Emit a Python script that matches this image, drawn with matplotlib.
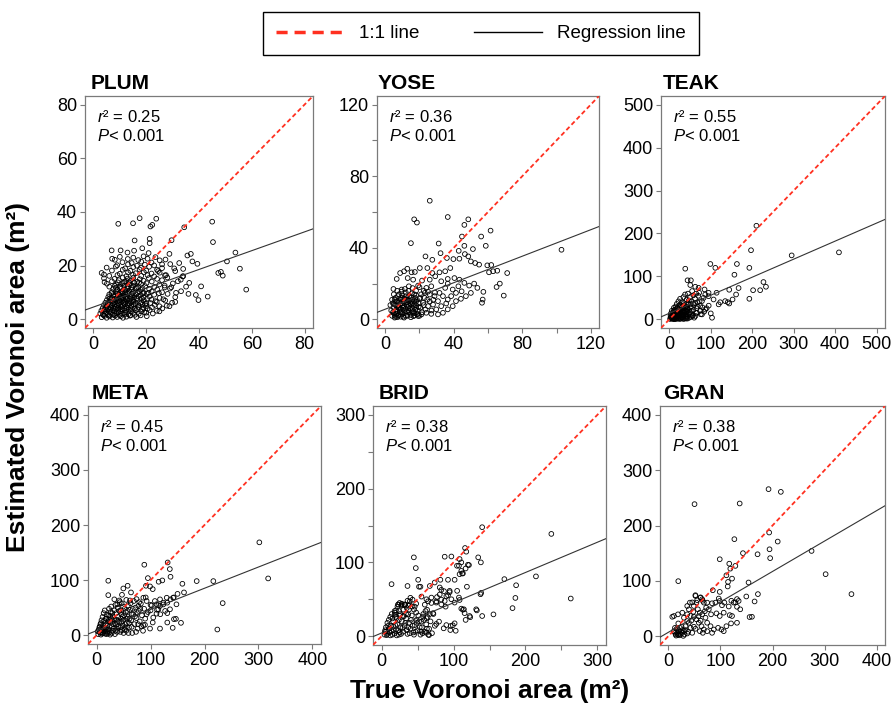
import numpy as np
import matplotlib
matplotlib.use("Agg")
import matplotlib.pyplot as plt
from matplotlib.lines import Line2D

plt.rcParams["font.family"] = ["Liberation Sans", "DejaVu Sans"]
plt.rcParams["mathtext.fontset"] = "custom"
plt.rcParams["mathtext.rm"] = "Liberation Sans"
plt.rcParams["mathtext.it"] = "Liberation Sans:italic"

# ---------------------------------------------------------------- data
SITES = ["PLUM", "YOSE", "TEAK", "META", "BRID", "GRAN"]
AXIS_MAX = [80, 120, 500, 400, 300, 400]
TICK_STEP = [20, 20, 100, 100, 50, 100]
LABEL_STEP = [20, 40, 100, 100, 100, 100]
R2 = [0.25, 0.36, 0.55, 0.45, 0.38, 0.38]
# regression lines (intercept, slope)
INTERCEPT = [4.6, 5.7, 14.3, 8.2, 4.3, 6.9]
SLOPE = [0.35, 0.37, 0.42, 0.385, 0.41, 0.55]

# (true area, estimated area) per site
PLUM = [
    (9.4, 35.6), (15.0, 35.8), (17.5, 37.7), (23.8, 37.5), (21.6, 34.6), (22.3, 35.2),
    (34.4, 34.3), (45.0, 36.4), (45.3, 28.8), (15.6, 29.4), (21.3, 30.0), (21.3, 28.4),
    (29.6, 29.5), (53.8, 24.9), (50.6, 21.6), (55.5, 18.9), (57.9, 11.1), (47.3, 17.3),
    (48.3, 17.7), (49.0, 16.3), (43.3, 8.5), (39.8, 7.2), (38.8, 9.1), (40.8, 12.3),
    (39.4, 20.7), (36.9, 24.4), (35.6, 23.8), (37.5, 21.6), (6.9, 25.7), (10.3, 25.7),
    (12.9, 24.9), (15.4, 25.6), (18.5, 26.5), (20.9, 24.7), (7.1, 22.6), (4.0, 16.7),
    (4.2, 13.9), (8.5, 19.7), (28.8, 24.4), (27.3, 22.3), (32.5, 21.0), (33.8, 16.0),
    (36.3, 13.6), (33.1, 14.8), (31.3, 9.9), (28.8, 4.9), (25.0, 4.9), (20.0, 2.5),
    (30.6, 19.0), (34.0, 18.8), (26.0, 20.5), (24.5, 18.0), (29.5, 12.0), (31.0, 6.5),
    (36.0, 9.5), (27.5, 16.5),
    (3.1, 0.8), (4.2, 1.3), (5.0, 0.6), (6.1, 1.1), (7.3, 0.7), (8.2, 1.4), (9.0, 0.9),
    (10.4, 1.2), (11.2, 0.6), (12.5, 1.0), (14.1, 1.5), (16.3, 0.9), (20.2, 1.2),
    (2.6, 2.2), (3.6, 1.9), (4.7, 2.4), (5.5, 2.0), (6.6, 2.6), (7.4, 1.8), (8.7, 2.3),
    (9.6, 2.7), (10.8, 2.1), (12.1, 2.5), (13.2, 1.9), (15.0, 2.4), (17.2, 2.1), (19.3, 2.7),
    (3.0, 3.3), (4.1, 3.0), (5.2, 3.5), (6.0, 2.9), (7.1, 3.4), (8.0, 3.1), (9.2, 3.6),
    (10.1, 3.0), (11.0, 3.5), (12.3, 3.2), (13.4, 3.7), (14.2, 3.1), (16.0, 3.4), (18.1, 3.0),
    (21.3, 3.5), (24.0, 3.2),
    (3.5, 4.2), (4.6, 4.5), (5.6, 4.0), (6.5, 4.4), (7.7, 4.1), (8.5, 4.6), (9.4, 4.2),
    (10.6, 4.7), (11.6, 4.1), (12.7, 4.5), (14.0, 4.3), (15.6, 4.0), (17.1, 4.6), (19.0, 4.2),
    (22.2, 4.5), (26.1, 4.1),
    (4.0, 5.3), (5.1, 5.0), (6.2, 5.6), (7.0, 5.2), (8.1, 5.5), (9.0, 5.1), (10.2, 5.4),
    (11.1, 5.0), (12.0, 5.6), (13.1, 5.3), (14.3, 5.1), (15.2, 5.5), (17.0, 5.2), (18.6, 5.6),
    (20.0, 5.0), (23.2, 5.4), (27.8, 5.1),
    (4.5, 6.2), (6.0, 6.5), (7.2, 6.0), (8.0, 6.4), (9.1, 6.1), (10.0, 6.6), (11.2, 6.2),
    (12.1, 6.5), (13.0, 6.0), (14.2, 6.3), (15.1, 6.6), (16.0, 6.1), (18.2, 6.4), (20.1, 6.0),
    (24.0, 6.5), (29.8, 6.2),
    (5.1, 7.2), (6.6, 7.5), (7.5, 7.0), (8.6, 7.4), (9.6, 7.1), (10.5, 7.6), (11.4, 7.2),
    (12.6, 7.5), (13.5, 7.0), (15.1, 7.3), (16.5, 7.6), (19.1, 7.1), (22.0, 7.4), (27.2, 7.0),
    (5.6, 8.3), (7.0, 8.0), (8.1, 8.5), (9.0, 8.1), (10.1, 8.6), (11.0, 8.2), (12.2, 8.5),
    (13.0, 8.0), (14.1, 8.4), (15.5, 8.1), (17.1, 8.6), (19.0, 8.2), (21.2, 8.5), (25.1, 8.0),
    (31.0, 8.3),
    (6.0, 9.3), (7.5, 9.0), (9.1, 9.5), (10.0, 9.1), (11.1, 9.6), (12.0, 9.2), (13.1, 9.5),
    (14.6, 9.0), (16.1, 9.4), (18.0, 9.1), (20.2, 9.6), (23.0, 9.2), (28.1, 9.5),
    (7.0, 10.2), (8.6, 10.5), (10.1, 10.0), (11.0, 10.4), (12.1, 10.1), (13.5, 10.6),
    (15.0, 10.2), (17.1, 10.5), (19.0, 10.0), (22.1, 10.4), (26.0, 10.1), (33.2, 10.5),
    (7.5, 11.3), (9.0, 11.0), (10.6, 11.5), (12.0, 11.1), (13.1, 11.6), (14.5, 11.2),
    (16.1, 11.5), (18.0, 11.0), (21.1, 11.4), (24.2, 11.1), (29.0, 11.5),
    (6.0, 12.2), (8.1, 12.5), (10.0, 12.1), (11.6, 12.6), (13.0, 12.2), (15.1, 12.5),
    (17.0, 12.0), (19.6, 12.4), (23.1, 12.1), (27.0, 12.6), (35.1, 12.2),
    (5.1, 13.3), (8.6, 13.0), (11.0, 13.5), (13.6, 13.1), (15.5, 13.6), (18.0, 13.2),
    (20.1, 13.5), (25.0, 13.0), (30.1, 13.4),
    (7.0, 14.2), (9.6, 14.6), (12.0, 14.1), (14.1, 14.5), (16.6, 14.0), (19.0, 14.4),
    (22.1, 14.1), (26.0, 14.6), (32.0, 14.2),
    (4.0, 15.3), (8.0, 15.1), (11.1, 15.6), (13.0, 15.2), (15.1, 15.5), (17.6, 15.0),
    (21.0, 15.4), (24.1, 15.1), (28.0, 15.6),
    (6.0, 16.2), (9.1, 16.5), (12.5, 16.1), (15.0, 16.6), (18.1, 16.2), (20.5, 16.5),
    (23.0, 16.0), (27.1, 16.4), (34.0, 16.1),
    (3.1, 17.3), (10.0, 17.0), (13.1, 17.5), (16.0, 17.2), (19.1, 17.6), (22.0, 17.1), (25.1, 17.4),
    (7.0, 18.2), (11.1, 18.5), (14.0, 18.1), (17.5, 18.6), (20.0, 18.2), (24.1, 18.5), (31.0, 18.0),
    (5.0, 19.3), (12.0, 19.0), (15.1, 19.5), (18.0, 19.2), (21.1, 19.6), (26.0, 19.1),
    (9.0, 20.2), (13.1, 20.5), (16.5, 20.0), (19.5, 20.4), (23.0, 20.1), (29.1, 20.6),
    (11.0, 21.3), (14.5, 21.0), (18.1, 21.5), (22.0, 21.2),
    (8.1, 22.2), (13.0, 22.5), (17.0, 22.1), (20.5, 22.6), (25.1, 22.0),
    (10.0, 23.3), (15.1, 23.0), (19.0, 23.5), (23.5, 23.2),
    (3.8, 1.6), (5.8, 1.5), (7.9, 1.7), (9.9, 1.6), (11.8, 1.8), (13.8, 1.4), (15.7, 1.7),
    (17.9, 1.5), (4.4, 3.8), (6.4, 3.7), (8.4, 3.9), (10.3, 3.8), (12.4, 3.9), (14.6, 3.7),
    (16.6, 3.9), (18.5, 3.7), (20.5, 4.0), (5.4, 5.8), (7.5, 5.9), (9.6, 5.7), (11.5, 5.9),
    (13.6, 5.8), (15.8, 5.7), (17.8, 5.9), (19.6, 5.8), (21.6, 6.1), (6.2, 7.8), (8.2, 7.7),
    (10.3, 7.9), (12.2, 7.8), (14.3, 7.7), (16.3, 7.9), (18.3, 7.8), (20.3, 7.7), (6.8, 9.8),
    (8.8, 9.7), (10.7, 9.9), (12.7, 9.8), (14.8, 9.7), (16.8, 9.9), (18.8, 9.7), (20.9, 9.9),
    (8.5, 11.8), (10.4, 11.9), (12.6, 11.7), (14.4, 11.9), (16.4, 11.8), (18.6, 11.7),
    (9.2, 13.8), (11.5, 13.7), (13.4, 13.9), (15.3, 13.8), (17.3, 13.7), (22.5, 2.2),
    (25.0, 3.0), (23.5, 6.8), (26.5, 7.5), (24.8, 9.8), (27.0, 11.9),
]

YOSE = [
    (26.0, 66.3), (36.5, 57.2), (16.9, 55.9), (18.5, 54.1), (48.5, 55.9), (46.2, 52.8),
    (61.5, 49.6), (44.8, 46.3), (56.0, 46.3), (58.7, 41.1), (46.2, 41.1), (51.2, 39.3),
    (15.0, 42.6), (31.2, 42.4), (102.9, 38.9), (23.5, 35.2), (27.5, 33.3), (32.3, 37.0),
    (36.0, 34.3), (39.8, 33.7), (42.9, 38.3), (43.3, 33.9), (46.5, 36.5), (48.5, 35.2),
    (50.0, 32.4), (52.5, 31.5), (54.8, 30.6), (59.6, 30.2), (61.9, 30.4), (63.0, 26.9),
    (65.4, 27.2), (60.6, 26.3), (71.2, 25.9), (66.9, 20.0), (65.0, 18.1), (69.2, 13.3),
    (57.3, 15.4), (56.9, 11.1), (56.5, 9.3),
    (6.7, 22.6), (8.7, 25.9), (11.0, 26.9), (12.9, 28.3), (15.4, 26.3), (17.3, 26.5),
    (20.2, 28.7), (24.6, 28.7), (27.5, 25.9), (4.8, 17.0), (9.6, 16.7), (13.8, 18.5),
    (19.2, 18.9), (21.5, 21.7), (26.0, 22.2), (29.2, 24.1), (31.7, 26.3), (35.0, 26.9),
    (38.0, 28.7), (32.7, 21.3), (36.5, 22.6), (40.4, 23.1), (43.3, 22.2), (46.2, 20.4),
    (49.0, 18.9), (51.9, 20.0), (53.8, 17.6), (50.0, 14.8), (47.1, 13.0), (44.2, 11.5),
    (41.3, 10.2), (39.4, 7.4), (36.5, 5.6), (33.7, 3.7), (30.8, 2.8), (26.9, 3.1),
    (24.0, 3.7), (21.2, 2.8), (19.2, 1.9),
    (23.1, 14.8), (26.0, 13.9), (28.8, 13.0), (31.7, 14.8), (35.0, 17.6), (33.7, 13.0),
    (36.5, 11.1), (30.8, 10.2), (27.9, 8.3), (25.0, 7.4), (22.1, 9.3), (20.2, 12.0),
    (29.8, 5.6), (32.7, 7.4), (35.6, 8.9), (38.5, 13.0), (41.3, 14.8), (42.7, 18.5),
    (39.4, 16.7), (44.6, 15.7), (36.5, 20.0), (26.9, 18.5), (24.0, 17.6), (16.3, 22.2),
    (13.1, 23.1),
    (4, 2), (5, 3.5), (6, 1.5), (7, 4.5), (8, 2.5), (9, 6), (10, 3), (11, 5), (12, 2),
    (13, 7), (14, 4), (15, 2.5), (16, 6), (17, 3.5), (18, 8), (19, 5), (5, 6.5), (6, 8),
    (7, 10), (8, 7), (9, 12), (10, 9), (11, 7.5), (12, 11), (13, 9.5), (14, 13), (15, 8.5),
    (16, 11), (17, 14), (18, 10), (6, 12), (8, 14), (10, 13.5), (12, 15), (4.5, 9), (3.5, 5),
    (5.5, 11), (7.5, 13), (9.5, 15.5), (11.5, 17), (13.5, 16), (15.5, 14.5), (17.5, 12),
    (19.5, 9), (20.5, 6.5), (21.5, 4), (22.5, 8), (23.5, 5.5), (24.5, 11), (20, 11.5),
    (21, 14), (22.5, 16), (8.5, 4), (10.5, 1.5), (12.5, 4.5), (14.5, 6), (16.5, 1.8),
    (18.5, 3), (6.5, 5.5), (9, 9), (11, 11.5), (13, 12), (15, 10), (7, 16), (5, 14), (3, 8),
    (4, 11), (16, 17.5), (18, 16), (20, 18), (23, 12), (25, 15.5), (26, 10), (27, 5),
    (28, 11), (29, 15),
    (4.5, 4), (5.5, 2.5), (6.5, 3), (7.5, 2), (8.5, 5.5), (9.5, 4), (10.5, 6.5), (11.5, 3.5),
    (12.5, 8), (13.5, 5), (14.5, 9), (15.5, 4.5), (16.5, 7.5), (17.5, 5.5), (18.5, 11),
    (19.5, 7), (5, 8.5), (6, 10), (7, 7), (8, 9.5), (9, 11), (10, 12), (11, 9.5), (12, 13),
    (13, 11), (14, 10.5), (15, 12.5), (16, 9), (17, 10.5), (18, 13.5), (5.5, 1), (7, 1.2),
    (9, 1.5), (11, 1), (13, 2), (15, 1.2), (17, 2.2), (19, 3), (20, 2), (6, 4.2), (8, 6.5),
    (10, 7.8), (12, 6), (14, 7.5), (16, 4), (18, 6.5),
]

TEAK = [
    (210, 218), (197, 161), (295, 149), (409, 156), (99, 129), (111, 120), (163, 129),
    (157, 104), (193, 120), (38.5, 118), (44, 91), (52, 91), (227, 87), (233, 76), (219, 68),
    (202, 68), (193, 48), (167, 73), (144.5, 69), (161, 58), (152.5, 46.4), (141, 40),
    (144.5, 37), (119, 35), (103, 3.9), (114, 62), (94.7, 62), (86.7, 58), (82.7, 50),
    (78.7, 42.6), (50.6, 80), (62.6, 76), (70.6, 73.5), (85, 69.7), (94.7, 54), (106.7, 46.4),
    (122.8, 40), (134.8, 42.6), (74.6, 31), (86.7, 23), (66.6, 15.5), (78.7, 11.6), (56, 7.7),
    (42.5, 6.2),
    (5, 3), (8, 6), (10, 2), (12, 10), (14, 4), (16, 8), (18, 14), (20, 3), (22, 18), (24, 7),
    (26, 12), (28, 22), (30, 5), (32, 16), (34, 26), (36, 9), (38, 20), (40, 30), (42, 13),
    (44, 24), (46, 36), (48, 4), (50, 17), (52, 28), (54, 42), (56, 10), (58, 22), (60, 34),
    (62, 48), (64, 15), (66, 26), (68, 40), (70, 55), (12, 22), (15, 30), (18, 36), (22, 42),
    (26, 48), (30, 40), (34, 52), (38, 58), (9, 16), (7, 11), (6, 20), (11, 27), (25, 33),
    (28, 2), (35, 1), (40, 8), (44, 2), (52, 6), (60, 4), (75, 20), (80, 28), (76, 12),
    (84, 18), (90, 26), (95, 32), (100, 14), (72, 62), (65, 60), (58, 56), (50, 52), (42, 46),
    (20, 27), (16, 19), (31, 29), (3, 9), (4, 14), (45, 60), (55, 66), (35, 38), (47, 44),
    (62, 38), (68, 30), (73, 42), (57, 37), (41, 19), (33, 11), (27, 15), (21, 8), (13, 1),
    (23, 24), (29, 33), (37, 28), (54, 20), (49, 12), (63, 8),
    (2, 1), (4, 6), (6, 2), (8, 9), (10, 5), (12, 1), (14, 12), (16, 3), (18, 7), (20, 11),
    (22, 2), (24, 15), (26, 4), (28, 9), (30, 13), (32, 2), (34, 8), (36, 15), (38, 3),
    (40, 11), (42, 6), (44, 18), (3, 4), (7, 3), (11, 14), (15, 9), (19, 18), (23, 10),
    (27, 20), (31, 22), (35, 18), (39, 24), (43, 28), (47, 22), (51, 35), (9, 1), (17, 1),
    (25, 1), (33, 5), (41, 2), (10, 18), (14, 22), (18, 26), (24, 30), (30, 28), (36, 33),
    (42, 36),
]

META = [
    (301.7, 168.5), (318, 103), (233.7, 58.2), (223.8, 10.3), (216.4, 98.2), (185.5, 98.2),
    (162, 77.6), (159, 93.3), (156.4, 22.4), (147, 29.7), (143.4, 29.1), (141, 13.3),
    (131, 23), (137, 106), (135.7, 120), (131.7, 132), (121.8, 99.4), (115, 97), (95, 103.6),
    (104, 83.6), (99, 88.5), (88.4, 127.9), (91.5, 89.7), (21.6, 98.8), (21.6, 72.7),
    (49.5, 84.8), (57.5, 89.7), (63.7, 77.6), (47, 73.3), (150, 75), (131, 59), (142, 68),
    (137, 65), (148, 56), (117.5, 65), (123.6, 59), (32.8, 65), (42, 63), (38.3, 56),
    (46.4, 57.8), (61.8, 63), (86.6, 68), (92.7, 62), (102, 54), (111, 56), (114.4, 47),
    (111, 39), (117.5, 53), (131, 40), (100, 45), (92.7, 38), (89.6, 18.8), (104, 23),
    (86.6, 18.2), (74, 65.5), (91, 68.5), (77.3, 53), (130, 68), (143, 68.5), (127, 44),
    (136, 47), (123.6, 55.8), (114.4, 54.5), (99, 12), (117.5, 12),
    (3, 2), (6, 5), (8, 1), (10, 9), (12, 4), (14, 14), (16, 7), (18, 2), (20, 18), (22, 11),
    (24, 5), (26, 24), (28, 15), (30, 8), (32, 28), (34, 2), (36, 19), (38, 12), (40, 33),
    (42, 24), (44, 6), (46, 38), (48, 17), (50, 28), (52, 10), (54, 42), (56, 22), (58, 33),
    (60, 14), (62, 46), (64, 27), (66, 4), (68, 38), (70, 20), (72, 50), (74, 31), (76, 12),
    (78, 44), (80, 25), (82, 57), (84, 36), (86, 8), (88, 48), (90, 30), (95, 42), (100, 55),
    (105, 32), (108, 62), (112, 46), (118, 38), (5, 14), (7, 20), (9, 27), (11, 33), (13, 40),
    (15, 45), (17, 30), (19, 37), (21, 25), (23, 48), (25, 35), (27, 52), (29, 40), (31, 20),
    (33, 45), (35, 55), (37, 28), (39, 50), (41, 16), (43, 60), (45, 30), (47, 9), (49, 52),
    (51, 36), (53, 20), (55, 64), (57, 44), (59, 4), (61, 30), (63, 58), (65, 15), (67, 48),
    (69, 62), (71, 34), (73, 6), (75, 40), (77, 20), (79, 60), (81, 48), (83, 16), (2, 7),
    (4, 10), (6, 16), (8, 22), (10, 3), (12, 18), (14, 26), (16, 12), (18, 30), (20, 6),
    (22, 36), (24, 16), (26, 42), (28, 4), (30, 34), (32, 12), (34, 22), (36, 40), (38, 6),
    (40, 26), (42, 44), (44, 14), (46, 24), (48, 34), (50, 4), (52, 48), (54, 14), (56, 30),
    (58, 54), (60, 22), (15, 3), (25, 1), (35, 8), (45, 45), (55, 8), (65, 38), (11, 12),
    (19, 10), (27, 30), (9, 5), (13, 8), (17, 20), (21, 3), (23, 28), (29, 24),
]

BRID = [
    (139.8, 147.7), (236, 138.6), (116, 119.5), (117.7, 114.5), (97, 108), (87.7, 107.7),
    (108.4, 104.5), (110.8, 100), (134.3, 106.8), (138, 100), (44.8, 106.8), (47.5, 92.3),
    (121.4, 96.4), (107.5, 95.5), (108.4, 84), (112, 85), (101.5, 76.4), (92.3, 76.4),
    (81.7, 76.4), (50.8, 76.4), (52, 67), (170.7, 77.3), (214.6, 81), (187, 69), (186, 51.8),
    (182, 38), (263, 51), (13.8, 70.5), (36, 68), (54, 67), (67, 68), (73.8, 72.7), (80.8, 66),
    (83, 62.7), (118.6, 67), (105, 61.4), (94.6, 61.4), (92.3, 55.5), (97, 50), (107.5, 52.3),
    (108.4, 49), (137.5, 56.8), (131.5, 36.4), (139.8, 27.3), (155.5, 29.5), (122.3, 27.3),
    (110.8, 37.3), (114.4, 36.4), (55.4, 53.6), (62.3, 50), (69.2, 52.3), (76, 45.5),
    (83, 43), (89, 40), (87.7, 47.7), (101.5, 45.5), (23, 43), (27.7, 43), (32.3, 43),
    (39, 43), (46, 40), (18.5, 31.8), (24.5, 34), (30, 27.3), (37, 29.5),
    (104.8, 95.4), (110.8, 88.5), (113, 85), (120, 96.8), (116.8, 91.7), (138.4, 58.7),
    (132.4, 34.9), (123.2, 25.7), (115.4, 31.2), (116.8, 22), (113, 35.8), (101.5, 17.4),
    (103, 7.3), (95.5, 8.3), (96, 13.8), (99, 14.7), (90, 15), (86.3, 10.6), (79.8, 19.7),
    (76, 16.5), (71.5, 31.2), (63.2, 35.8), (60, 42.7), (64.6, 47.2), (69.2, 45), (76, 47.2),
    (83, 49.5), (90, 54), (94.6, 59.6), (86.7, 61), (80.8, 56.4), (77, 53), (62.3, 24.3),
    (57.7, 26.6), (55.4, 19.7), (48.5, 22), (62.3, 4.6), (65.9, 1.4),
    (23, 42.7), (27.7, 41.3), (32.3, 42.7), (37, 41.3), (39.2, 47.2), (43, 49.5), (18.5, 29),
    (20.8, 24.3), (11.5, 10.6), (4.6, 6), (6.9, 1.4),
    (4, 2), (6, 6), (8, 3), (10, 10), (12, 1), (14, 7), (16, 13), (18, 4), (20, 9), (22, 16),
    (24, 2), (26, 12), (28, 20), (30, 6), (32, 14), (34, 24), (36, 3), (38, 18), (40, 10),
    (42, 28), (44, 5), (46, 15), (48, 32), (50, 8), (52, 20), (54, 2), (56, 12), (58, 30),
    (60, 6), (62, 16), (64, 26), (66, 10), (68, 20), (70, 4), (72, 30), (74, 14), (6, 12),
    (8, 18), (10, 22), (12, 26), (14, 30), (16, 20), (18, 34), (20, 26), (22, 40), (24, 22),
    (26, 30), (28, 44), (30, 36), (32, 42), (34, 30), (36, 48), (38, 36), (40, 52), (15, 2),
    (25, 5), (35, 8), (45, 2), (55, 6), (65, 2), (19, 15), (29, 11), (39, 4), (49, 18),
    (59, 22), (11, 5), (21, 1), (31, 27), (41, 22), (51, 28), (61, 34), (13, 14), (17, 8),
    (23, 8), (27, 3), (33, 18), (37, 12), (43, 14), (47, 6), (53, 12), (57, 4), (63, 10),
    (67, 30), (5, 8), (9, 14), (15, 24), (25, 28), (35, 38), (45, 36), (48, 44), (42, 40),
    (20, 35), (25, 45),
]

GRAN = [
    (192.4, 265.7), (216, 260.8), (50.3, 238.6), (137, 239.8), (193.6, 187.3), (126.8, 175.3),
    (210, 171), (194.3, 157), (195.5, 141), (275, 154), (143.3, 150), (171.3, 148), (98.7, 139),
    (117, 131), (128.7, 127), (119, 122), (111.5, 110), (122.3, 104), (114.6, 98), (114, 89.8),
    (154, 97), (302, 112), (351.6, 76), (19.1, 99.4), (85.4, 83), (98.7, 80), (96.8, 68),
    (172, 76), (165.6, 62.7), (149.7, 71.7), (131.8, 67), (128.7, 61), (121, 64), (116, 53.6),
    (61.8, 70), (52, 74), (55.4, 65), (66, 64), (45.9, 61),
    (131.8, 24.2), (156, 34.5), (160.5, 35), (138, 48.5), (131.8, 53), (135, 63.6),
    (125.5, 60.6), (117.8, 38), (122.3, 36.4), (106.4, 42.4), (98.7, 36.4), (92.4, 41.2),
    (103, 55.8), (107.6, 60.6), (98.7, 63.6), (90.4, 60.6), (84, 59.4), (74.5, 60.6),
    (72.6, 51.5), (77.7, 48.5), (84, 6), (87.3, 12), (95.5, 15), (102, 12), (66.2, 6),
    (63.7, 18), (58.6, 24.2), (54, 30.3), (49, 17), (42.7, 15), (45.9, 6), (36.3, 4.8),
    (30, 9), (33, 18), (39.5, 24.2), (49, 35), (52.2, 72.7), (54, 60.6), (61.8, 69.7),
    (65, 66.7), (68.2, 60.6), (49, 54.5), (56.7, 48.5), (42.7, 36.4), (36.3, 39.4),
    (39.5, 48.5), (60.5, 42.4), (65, 39.4), (71.3, 33.3), (74.5, 24.2), (82, 39.4), (14, 3),
    (17.2, 6), (20.4, 9), (23.6, 3), (26.8, 6), (16, 13.3), (22.3, 15), (28.7, 0.5),
    (10.8, 36.4), (7.6, 35), (18.5, 39.4), (26.8, 42.4), (30, 33.3), (36.3, 27.3),
    (41.4, 60.6), (36.3, 54.5), (10.8, 9), (12.7, 15), (19.1, 23), (25.5, 17), (33, 11),
    (52.2, 13.3), (60.5, 9), (68.2, 12), (74.5, 9), (81, 18), (106.4, 9), (111.5, 18),
    (120.4, 23), (15, 1), (18, 2.5), (21, 1.5), (24, 8), (27, 11), (20, 4), (13, 6),
    (31, 3), (38, 8), (44, 28), (48, 44), (58, 36), (62, 28), (70, 45),
]

DATA = [PLUM, YOSE, TEAK, META, BRID, GRAN]

# ---------------------------------------------------------------- layout (pixels)
W, H = 893, 707
# left, top, right, bottom of each plot box
BOXES = [(85, 96, 313, 328), (377, 96, 599, 328), (661, 96, 885, 328),
         (88, 406, 321, 644), (373, 406, 606, 645), (660, 406, 885, 645)]
TITLE_X = [91, 378, 663, 92, 379, 663]
RED = "#FF3020"
GREY = "#7a7a7a"

fig = plt.figure(figsize=(W / 100, H / 100), dpi=100)

for i, site in enumerate(SITES):
    l, t, r, b = BOXES[i]
    ax = fig.add_axes([l / W, 1 - b / H, (r - l) / W, (b - t) / H])
    vmax = AXIS_MAX[i]
    pad = 0.04 * vmax
    ax.set_xlim(-pad, vmax + pad)
    ax.set_ylim(-pad, vmax + pad)
    ticks = np.arange(0, vmax + 1, TICK_STEP[i])
    labels = [str(int(v)) if v % LABEL_STEP[i] == 0 else "" for v in ticks]
    ax.set_xticks(ticks, labels)
    ax.set_yticks(ticks, labels)
    ax.tick_params(direction="out", length=3.6, width=0.8, color=GREY,
                   labelsize=13, pad=2)
    for sp in ax.spines.values():
        sp.set_color(GREY)
        sp.set_linewidth(0.9)

    xs, ys = zip(*DATA[i])
    ax.scatter(xs, ys, s=11.5, facecolors="none", edgecolors="black",
               linewidths=0.6, zorder=3)
    ax.axline((0, 0), slope=1, color=RED, ls=(0, (2.5, 1.6)), lw=1.3, zorder=4)
    ax.axline((0, INTERCEPT[i]), slope=SLOPE[i], color="#333333", lw=0.8, zorder=4)

    w, h = r - l, b - t
    ax.text(12 / w, 1 - 26 / h, f"$r$² = {R2[i]:.2f}", transform=ax.transAxes,
            fontsize=12, va="baseline", ha="left")
    ax.text(12 / w, 1 - 45 / h, r"$P$< 0.001", transform=ax.transAxes,
            fontsize=12, va="baseline", ha="left")
    ax.text((TITLE_X[i] - l) / w, 1 + 7 / h, site, transform=ax.transAxes,
            fontsize=15, fontweight="bold", va="baseline", ha="left")

fig.text(18 / W, 1 - 377 / H, "Estimated Voronoi area (m²)", rotation=90,
         fontsize=19, fontweight="bold", ha="center", va="center")
fig.text(490 / W, 1 - 691 / H, "True Voronoi area (m²)",
         fontsize=19, fontweight="bold", ha="center", va="center")

handles = [Line2D([], [], color=RED, ls=(0, (3.2, 2.0)), lw=2.5),
           Line2D([], [], color="black", lw=1.0)]
leg = fig.legend(handles, ["1:1 line", "Regression line"], loc="center",
                 bbox_to_anchor=(481 / W, 1 - 33.5 / H), ncol=2, frameon=True,
                 fancybox=False, edgecolor="black", framealpha=1, fontsize=13.5,
                 handlelength=3.6, handletextpad=0.85, columnspacing=2.9,
                 borderpad=0.7)
leg.get_frame().set_linewidth(1.0)

fig.savefig("out.png", dpi=100)
